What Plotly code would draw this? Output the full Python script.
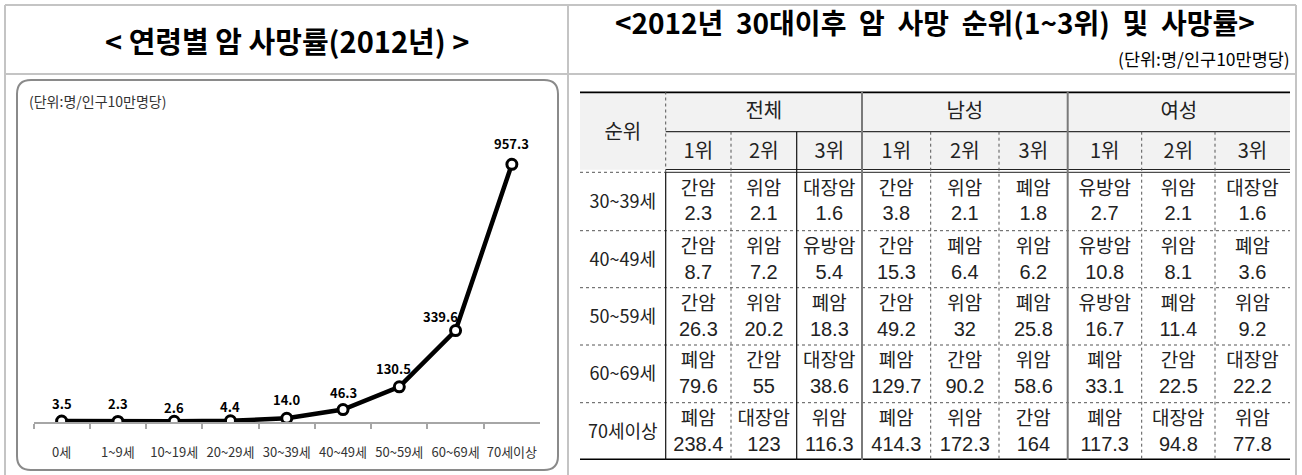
import plotly.graph_objects as go

# ---------------- data ----------------
AGE_GROUPS = ["0세", "1~9세", "10~19세", "20~29세", "30~39세", "40~49세", "50~59세", "60~69세", "70세이상"]
RATES = [3.5, 2.3, 2.6, 4.4, 14.0, 46.3, 130.5, 339.6, 957.3]

TABLE_AGES = ["30~39세", "40~49세", "50~59세", "60~69세", "70세이상"]
GROUPS = ["전체", "남성", "여성"]
RANKS = ["1위", "2위", "3위"]

CANCER_TOTAL = [["간암", "위암", "대장암"], ["간암", "위암", "유방암"], ["간암", "위암", "폐암"],
                ["폐암", "간암", "대장암"], ["폐암", "대장암", "위암"]]
RATE_TOTAL = [[2.3, 2.1, 1.6], [8.7, 7.2, 5.4], [26.3, 20.2, 18.3], [79.6, 55, 38.6], [238.4, 123, 116.3]]
CANCER_MALE = [["간암", "위암", "폐암"], ["간암", "폐암", "위암"], ["간암", "위암", "폐암"],
               ["폐암", "간암", "위암"], ["폐암", "위암", "간암"]]
RATE_MALE = [[3.8, 2.1, 1.8], [15.3, 6.4, 6.2], [49.2, 32, 25.8], [129.7, 90.2, 58.6], [414.3, 172.3, 164]]
CANCER_FEMALE = [["유방암", "위암", "대장암"], ["유방암", "위암", "폐암"], ["유방암", "폐암", "위암"],
                 ["폐암", "간암", "대장암"], ["폐암", "대장암", "위암"]]
RATE_FEMALE = [[2.7, 2.1, 1.6], [10.8, 8.1, 3.6], [16.7, 11.4, 9.2], [33.1, 22.5, 22.2], [117.3, 94.8, 77.8]]

LEFT_TITLE = "< 연령별 암 사망률(2012년) >"
RIGHT_TITLE = "<2012년 30대이후 암 사망 순위(1~3위) 및 사망률>"
UNIT = "(단위:명/인구10만명당)"
RANK_HEADER = "순위"

# ---------------- style / layout ----------------
W, H = 1302, 475
FONT = "Noto Sans CJK KR"
NUM_FONT = "Liberation Sans"
FRAME = "#c4c4c4"
INK = "#222"

# data-label pixel offsets (dx, dy up) per point
LABEL_OFFSETS = [(0, 18), (0, 18), (0, 14), (0, 14), (0, 19), (0, 17), (-6, 18), (-15, 14), (0, 21)]

# table geometry (pixels)
COL_EDGES = [580, 665.7, 731, 796.7, 862, 930.7, 999, 1067.7, 1141.7, 1215, 1290]
HEAD_TOP, HEAD_MID, HEAD_BOT = 91.5, 131.7, 172.3
ROW_EDGES = [172.3, 230.7, 287.7, 345, 402.7, 460]
NAME_DY, VALUE_DY = 17.5, 43.0   # offsets of the two text lines from a row's top edge


def px(x):
    return x / W


def py(y):
    return 1 - y / H


fig = go.Figure()

# ---------- line chart ----------
fig.add_trace(go.Scatter(
    x=AGE_GROUPS, y=RATES, mode="lines+markers",
    line=dict(color="black", width=4.5),
    marker=dict(symbol="circle", size=10, color="white", line=dict(color="black", width=3)),
    hoverinfo="skip", showlegend=False, xaxis="x", yaxis="y",
))

annotations = []
for cat, v, (dx, dy) in zip(AGE_GROUPS, RATES, LABEL_OFFSETS):
    annotations.append(dict(
        x=cat, y=v, xref="x", yref="y", text=f"{v:.1f}", showarrow=False,
        xshift=dx, yshift=dy, font=dict(family=FONT, size=13, color="black", weight="bold"),
        xanchor="center", yanchor="middle",
    ))

# ---------- table text ----------
col_centers = [(COL_EDGES[i] + COL_EDGES[i + 1]) / 2 for i in range(len(COL_EDGES) - 1)]
row_centers = [(ROW_EDGES[i] + ROW_EDGES[i + 1]) / 2 for i in range(len(ROW_EDGES) - 1)]

# headers
hx, hy, ht = [], [], []
hx.append((COL_EDGES[0] + COL_EDGES[1]) / 2); hy.append((HEAD_TOP + HEAD_BOT) / 2 + 2); ht.append(RANK_HEADER)
for g, name in enumerate(GROUPS):
    hx.append((COL_EDGES[1 + 3 * g] + COL_EDGES[4 + 3 * g]) / 2)
    hy.append((HEAD_TOP + HEAD_MID) / 2 + 1)
    ht.append(name)
    for r, rk in enumerate(RANKS):
        hx.append(col_centers[1 + 3 * g + r]); hy.append((HEAD_MID + HEAD_BOT) / 2 + 1); ht.append(rk)
fig.add_trace(go.Scatter(x=hx, y=hy, text=ht, mode="text", textposition="middle center",
                         textfont=dict(family=FONT, size=20, color=INK),
                         hoverinfo="skip", showlegend=False, xaxis="x2", yaxis="y2", cliponaxis=False))

# row labels
fig.add_trace(go.Scatter(x=[col_centers[0]] * len(TABLE_AGES), y=[c + 2 for c in row_centers], text=TABLE_AGES,
                         mode="text", textposition="middle center",
                         textfont=dict(family=FONT, size=18, color=INK),
                         hoverinfo="skip", showlegend=False, xaxis="x2", yaxis="y2", cliponaxis=False))

# cells: cancer names and rates
nx, ny, nt, vx, vy, vt = [], [], [], [], [], []
for g, (names, vals) in enumerate([(CANCER_TOTAL, RATE_TOTAL), (CANCER_MALE, RATE_MALE), (CANCER_FEMALE, RATE_FEMALE)]):
    for i in range(len(TABLE_AGES)):
        for r in range(3):
            c = col_centers[1 + 3 * g + r]
            nx.append(c); ny.append(ROW_EDGES[i] + NAME_DY); nt.append(names[i][r])
            vx.append(c); vy.append(ROW_EDGES[i] + VALUE_DY); vt.append(f"{vals[i][r]:g}")
fig.add_trace(go.Scatter(x=nx, y=ny, text=nt, mode="text", textposition="middle center",
                         textfont=dict(family=FONT, size=19, color=INK),
                         hoverinfo="skip", showlegend=False, xaxis="x2", yaxis="y2", cliponaxis=False))
fig.add_trace(go.Scatter(x=vx, y=vy, text=vt, mode="text", textposition="middle center",
                         textfont=dict(family=NUM_FONT, size=20, color=INK),
                         hoverinfo="skip", showlegend=False, xaxis="x2", yaxis="y2", cliponaxis=False))

# ---------- shapes ----------
shapes = []


def pline(x0, y0, x1, y1, color=FRAME, width=2, dash=None):
    shapes.append(dict(type="line", xref="paper", yref="paper", x0=px(x0), y0=py(y0), x1=px(x1), y1=py(y1),
                       line=dict(color=color, width=width, dash=dash)))


def tline(x0, y0, x1, y1, color="black", width=1, dash=None):
    shapes.append(dict(type="line", xref="x2", yref="y2", x0=x0, y0=y0, x1=x1, y1=y1,
                       line=dict(color=color, width=width, dash=dash), layer="above"))


# outer frame
pline(5, 5, 1296, 5)
pline(5, 5, 5, 475)
pline(1296, 5, 1296, 475)
pline(5, 74, 1296, 74)
pline(568, 5, 568, 475)

# rounded chart box
L, T, R, B, rr = 17, 80, 558, 470, 14
path = (f"M {px(L + rr)},{py(T)} L {px(R - rr)},{py(T)} Q {px(R)},{py(T)} {px(R)},{py(T + rr)} "
        f"L {px(R)},{py(B - rr)} Q {px(R)},{py(B)} {px(R - rr)},{py(B)} "
        f"L {px(L + rr)},{py(B)} Q {px(L)},{py(B)} {px(L)},{py(B - rr)} "
        f"L {px(L)},{py(T + rr)} Q {px(L)},{py(T)} {px(L + rr)},{py(T)} Z")
shapes.append(dict(type="path", xref="paper", yref="paper", path=path,
                   line=dict(color="#8a8a8a", width=2), layer="below"))

# table header background
shapes.append(dict(type="rect", xref="x2", yref="y2", x0=COL_EDGES[0], x1=COL_EDGES[-1], y0=HEAD_TOP + 1.5,
                   y1=HEAD_BOT - 2.5, fillcolor="#f2f2f2", line=dict(width=0), layer="below"))

# horizontal table lines
tline(COL_EDGES[0], HEAD_TOP, COL_EDGES[-1], HEAD_TOP, width=3.5)
tline(COL_EDGES[1], HEAD_MID, COL_EDGES[-1], HEAD_MID, color="#333", width=1.3)
tline(COL_EDGES[1], HEAD_BOT - 2.8, COL_EDGES[-1], HEAD_BOT - 2.8, color="#222", width=1)
tline(COL_EDGES[1], HEAD_BOT, COL_EDGES[-1], HEAD_BOT, color="#222", width=1)
tline(COL_EDGES[0], HEAD_BOT, COL_EDGES[1], HEAD_BOT, color="#555", width=1, dash="dot")
for y in ROW_EDGES[1:-1]:
    tline(COL_EDGES[0], y, COL_EDGES[-1], y, color="#555", width=1, dash="dot")
tline(COL_EDGES[0], ROW_EDGES[-1], COL_EDGES[-1], ROW_EDGES[-1], width=3)

# vertical table lines
tline(COL_EDGES[1], HEAD_TOP, COL_EDGES[1], HEAD_BOT, color="#555", width=1, dash="dot")
tline(COL_EDGES[1], HEAD_BOT, COL_EDGES[1], ROW_EDGES[-1], color="#111", width=1.2)
for k in range(2, 10):
    x = COL_EDGES[k]
    if k in (4, 7):
        tline(x, HEAD_TOP, x, ROW_EDGES[-1], color="#7a7a7a", width=2)
    elif k == 3:
        tline(x, HEAD_MID, x, ROW_EDGES[-1], color="#111", width=1.2)
    else:
        tline(x, HEAD_MID, x, ROW_EDGES[-1], color="#555", width=1, dash="dot")

# ---------- text annotations ----------
annotations += [
    dict(x=px(287), y=py(40), xref="paper", yref="paper", text=LEFT_TITLE, showarrow=False,
         font=dict(family=FONT, size=29, color="black", weight="bold"), xanchor="center", yanchor="middle"),
    dict(x=px(935), y=py(22), xref="paper", yref="paper", text=RIGHT_TITLE.replace(" ", "\u00a0\u00a0"),
         showarrow=False, font=dict(family=FONT, size=28, color="black", weight="bold"),
         xanchor="center", yanchor="middle"),
    dict(x=px(1292), y=py(59), xref="paper", yref="paper", text=UNIT, showarrow=False,
         font=dict(family=FONT, size=17.5, color="black"), xanchor="right", yanchor="middle"),
    dict(x=px(27), y=py(101), xref="paper", yref="paper", text=UNIT, showarrow=False,
         font=dict(family=FONT, size=14, color="#333"), xanchor="left", yanchor="middle"),
]

ZERO_Y, TOP_Y, PX_PER_UNIT = 422, 100, 0.2692

fig.update_layout(
    width=W, height=H, margin=dict(l=0, r=0, t=0, b=0),
    paper_bgcolor="white", plot_bgcolor="rgba(0,0,0,0)",
    font=dict(family=FONT),
    showlegend=False,
    xaxis=dict(domain=[px(33.5), px(540)], type="category", range=[-0.5, 8.5],
               showline=True, linecolor="#a6a6a6", linewidth=2, showgrid=False, zeroline=False,
               ticks="outside", tickson="boundaries", ticklen=5, tickwidth=1.5, tickcolor="#a6a6a6",
               tickangle=0, tickfont=dict(family=FONT, size=13, color="#333"), ticklabelstandoff=17,
               fixedrange=True),
    yaxis=dict(domain=[py(ZERO_Y), py(TOP_Y)], range=[0, (ZERO_Y - TOP_Y) / PX_PER_UNIT], visible=False,
               fixedrange=True),
    xaxis2=dict(domain=[px(COL_EDGES[0]), px(COL_EDGES[-1])], range=[COL_EDGES[0], COL_EDGES[-1]],
                visible=False, fixedrange=True, anchor="y2"),
    yaxis2=dict(domain=[py(ROW_EDGES[-1]), py(HEAD_TOP)], range=[ROW_EDGES[-1], HEAD_TOP],
                visible=False, fixedrange=True, anchor="x2"),
    shapes=shapes, annotations=annotations,
)

fig.write_html("out.html", config={"displayModeBar": False},
               post_script="document.body.style.margin='0px';document.body.style.overflow='hidden';")
